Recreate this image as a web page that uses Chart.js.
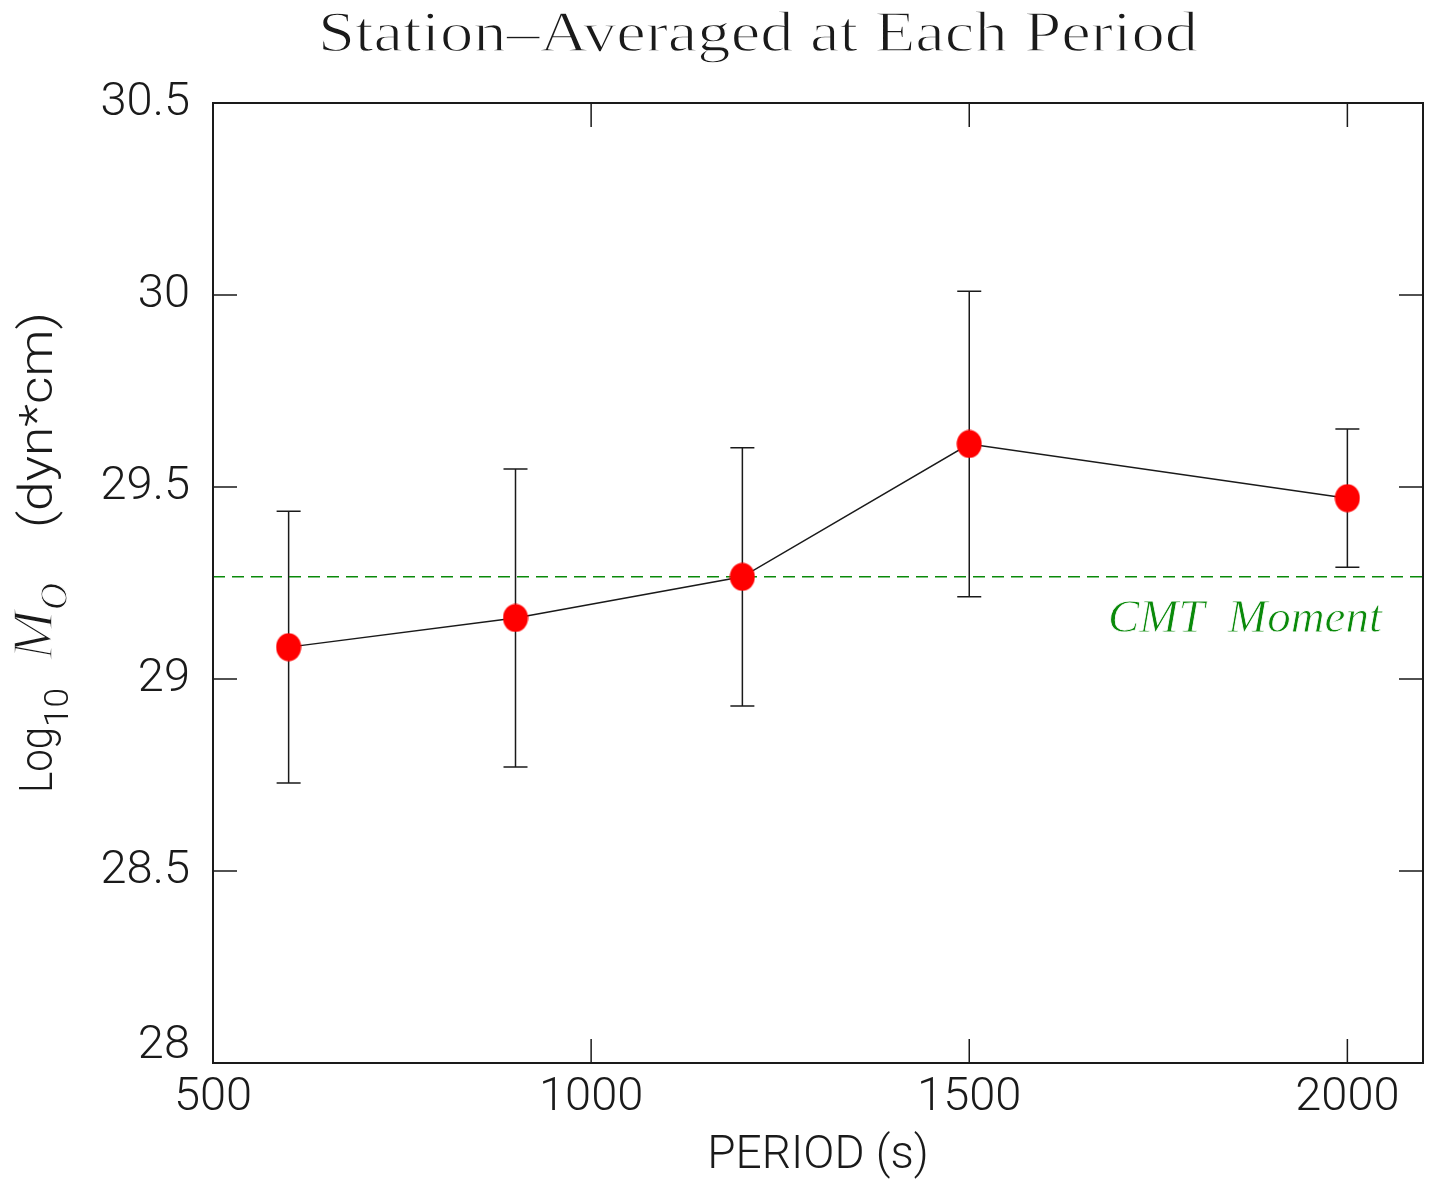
<!DOCTYPE html>
<html>
<head>
<meta charset="utf-8">
<title>Station-Averaged at Each Period</title>
<script src="https://cdn.jsdelivr.net/npm/chart.js@4.4.0/dist/chart.umd.min.js"></script>
<style>
  html, body { margin: 0; padding: 0; background: #fff; }
  #wrap { width: 1432px; height: 1184px; position: relative; }
</style>
</head>
<body>
<div id="wrap"><canvas id="momentChart"></canvas></div>
<script>
// periods (s) and station-averaged log10 moment with its spread
const periods = [600, 900, 1200, 1500, 2000];
const logM0 = [29.083, 29.159, 29.266, 29.612, 29.471];
const logM0Err = [0.354, 0.388, 0.336, 0.398, 0.180];
const cmtMoment = 29.266;
const xTicks = [500, 1000, 1500, 2000];
const yTicks = [28, 28.5, 29, 29.5, 30, 30.5];

const sans = "Roboto, 'DejaVu Sans', sans-serif";
const serif = "'Liberation Serif', 'DejaVu Serif', serif";
const ink = '#1a1a1a';
const green = '#0a8a0a';

// red oval marker
const dot = document.createElement('canvas');
dot.width = 26;
dot.height = 29;
const dctx = dot.getContext('2d');
dctx.fillStyle = '#ff0000';
dctx.beginPath();
dctx.ellipse(13, 14.5, 12.5, 14, 0, 0, Math.PI * 2);
dctx.fill();

// draw a string stretched to the given width, optionally thinned with a white edge
function fitText(ctx, text, x, y, width, thin) {
  const w = ctx.measureText(text).width;
  ctx.save();
  ctx.translate(x, y);
  ctx.scale(width / w, 1);
  ctx.fillText(text, 0, 0);
  if (thin) {
    ctx.strokeStyle = '#fff';
    ctx.lineWidth = thin;
    ctx.strokeText(text, 0, 0);
  }
  ctx.restore();
}

const errorBars = {
  id: 'errorBars',
  beforeDatasetsDraw(chart) {
    const { ctx, scales: { x, y } } = chart;
    ctx.save();
    ctx.strokeStyle = ink;
    ctx.lineWidth = 1.5;
    periods.forEach((p, i) => {
      const px = x.getPixelForValue(p);
      const top = y.getPixelForValue(logM0[i] + logM0Err[i]);
      const bot = y.getPixelForValue(logM0[i] - logM0Err[i]);
      ctx.beginPath();
      ctx.moveTo(px, top); ctx.lineTo(px, bot);
      ctx.moveTo(px - 12, top); ctx.lineTo(px + 12, top);
      ctx.moveTo(px - 12, bot); ctx.lineTo(px + 12, bot);
      ctx.stroke();
    });
    ctx.restore();
  }
};

const frame = {
  id: 'frame',
  afterDraw(chart) {
    const { ctx, chartArea: a, scales: { x, y } } = chart;
    ctx.save();
    ctx.strokeStyle = ink;
    ctx.lineWidth = 1.5;
    const len = 24;
    ctx.beginPath();
    xTicks.forEach(v => {
      const px = x.getPixelForValue(v);
      ctx.moveTo(px, a.bottom); ctx.lineTo(px, a.bottom - len);
      ctx.moveTo(px, a.top); ctx.lineTo(px, a.top + len);
    });
    yTicks.forEach(v => {
      const py = y.getPixelForValue(v);
      ctx.moveTo(a.left, py); ctx.lineTo(a.left + len, py);
      ctx.moveTo(a.right, py); ctx.lineTo(a.right - len, py);
    });
    ctx.stroke();
    ctx.lineWidth = 2;
    ctx.strokeRect(a.left, a.top, a.right - a.left, a.bottom - a.top);

    // plot title
    ctx.fillStyle = ink;
    ctx.textAlign = 'left';
    ctx.textBaseline = 'alphabetic';
    ctx.font = '56px ' + serif;
    fitText(ctx, 'Station\u2013Averaged at Each Period', 318, 51, 880, 1.3);

    // label for the dashed reference line
    ctx.fillStyle = green;
    ctx.font = 'italic 46px ' + serif;
    fitText(ctx, 'CMT  Moment', 1108, 632, 274, 0.8);

    // rotated y-axis title: Log10 M0 (dyn*cm); each piece placed by where it starts going up the page
    const parts = [
      { t: 'Log', f: '300 47px ' + sans, from: 793, len: 66, dy: 0, thin: 0 },
      { t: '10', f: '300 34px ' + sans, from: 727, len: 39, dy: 16, thin: 0 },
      { t: 'M', f: 'italic 58px ' + serif, from: 660, len: 50, dy: 0, thin: 1.6 },
      { t: 'O', f: 'italic 40px ' + serif, from: 610, len: 27, dy: 15, thin: 1 },
      { t: '(dyn*cm)', f: '300 47px ' + sans, from: 528, len: 216, dy: 0, thin: 0 }
    ];
    ctx.fillStyle = ink;
    parts.forEach(p => {
      ctx.save();
      ctx.translate(52, p.from);
      ctx.rotate(-Math.PI / 2);
      ctx.font = p.f;
      fitText(ctx, p.t, 0, p.dy, p.len, p.thin);
      ctx.restore();
    });
    ctx.restore();
  }
};

// the lowest y label sits a little above its tick so it clears the x labels
const yMin = yTicks[0];

const config = {
  type: 'line',
  data: {
    datasets: [
      {
        data: periods.map((p, i) => ({ x: p, y: logM0[i] })),
        borderColor: ink,
        borderWidth: 1.5,
        pointStyle: dot,
        pointRadius: 13,
        tension: 0
      },
      {
        data: [{ x: 500, y: cmtMoment }, { x: 2100, y: cmtMoment }],
        borderColor: green,
        borderWidth: 1.5,
        borderDash: [12, 7],
        pointRadius: 0
      }
    ]
  },
  options: {
    responsive: true,
    maintainAspectRatio: false,
    animation: false,
    layout: { autoPadding: false, padding: { top: 103, right: 9, left: 0, bottom: 0 } },
    plugins: { legend: { display: false }, tooltip: { enabled: false } },
    scales: {
      x: {
        type: 'linear',
        min: 500,
        max: 2100,
        grid: { display: false, drawTicks: false },
        border: { display: false },
        afterBuildTicks: scale => { scale.ticks = xTicks.map(v => ({ value: v })); },
        afterFit: scale => {
          scale.height = 121;
          scale.paddingLeft = 0;
          scale.paddingRight = 0;
        },
        ticks: {
          padding: 7,
          color: ink,
          maxRotation: 0,
          font: { family: sans, size: 47, weight: '300' },
          callback: v => String(v)
        },
        title: {
          display: true,
          text: 'PERIOD (s)',
          color: ink,
          padding: 0,
          font: { family: sans, size: 46, weight: '300' }
        }
      },
      y: {
        min: 28,
        max: 30.5,
        grid: { display: false, drawTicks: false },
        border: { display: false },
        afterBuildTicks: scale => { scale.ticks = yTicks.map(v => ({ value: v })); },
        afterFit: scale => {
          scale.width = 213;
          scale.paddingTop = 0;
          scale.paddingBottom = 0;
        },
        ticks: {
          padding: 23,
          color: ink,
          font: c => ({
            family: sans,
            size: 47,
            weight: '300',
            lineHeight: c.tick && c.tick.value === yMin ? 0.7 : 1.2
          }),
          callback: v => (v === yMin ? [String(v), ''] : String(v))
        }
      }
    }
  },
  plugins: [errorBars, frame]
};

const momentChart = new Chart(document.getElementById('momentChart'), config);
</script>
</body>
</html>
